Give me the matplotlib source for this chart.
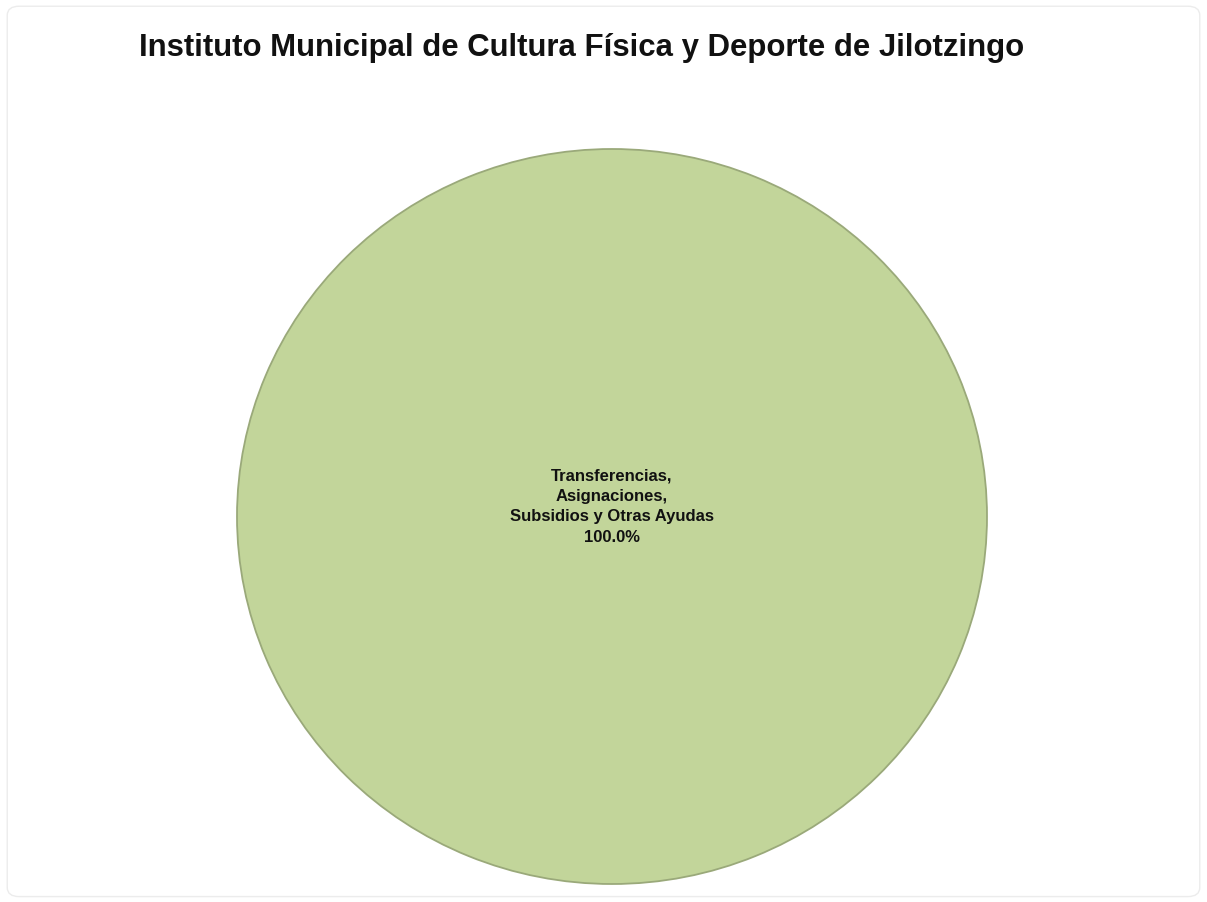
import matplotlib
matplotlib.use("Agg")
import matplotlib.pyplot as plt
from matplotlib.patches import FancyBboxPatch

plt.rcParams["font.family"] = ["Liberation Sans", "DejaVu Sans"]

title = "Instituto Municipal de Cultura Física y Deporte de Jilotzingo"
categories = ["Transferencias,\nAsignaciones,\nSubsidios y Otras Ayudas"]
shares = [100.0]
colors = ["#c2d59a"]

fig = plt.figure(figsize=(12.07, 9.03), dpi=100)

# light frame around the chart area
frame = FancyBboxPatch((0.006, 0.006), 0.988, 0.986, boxstyle="round,pad=0,rounding_size=0.01",
                       transform=fig.transFigure, facecolor="none", edgecolor="#ececec", lw=1,
                       zorder=-1)
fig.patches.append(frame)

fig.text(0.482, 0.947, title, ha="center", va="center", fontsize=22.4, fontweight="bold", color="#111111")

ax = fig.add_axes([237 / 1207, 18 / 903, 750 / 1207, 735 / 903])
ax.patch.set_alpha(0)
wedges, _ = ax.pie(shares, colors=colors, startangle=90, counterclock=False,
                   wedgeprops=dict(edgecolor="#9aa97a", linewidth=1.3))
ax.set_aspect("auto")
ax.set_xlim(-1.0, 1.0)
ax.set_ylim(-1.0, 1.0)

for cat, val in zip(categories, shares):
    ax.text(0, 0.03, f"{cat}\n{val:.1f}%", ha="center", va="center", fontsize=12,
            fontweight="bold", color="#111111", linespacing=1.45)

fig.savefig("out.png", dpi=100)
